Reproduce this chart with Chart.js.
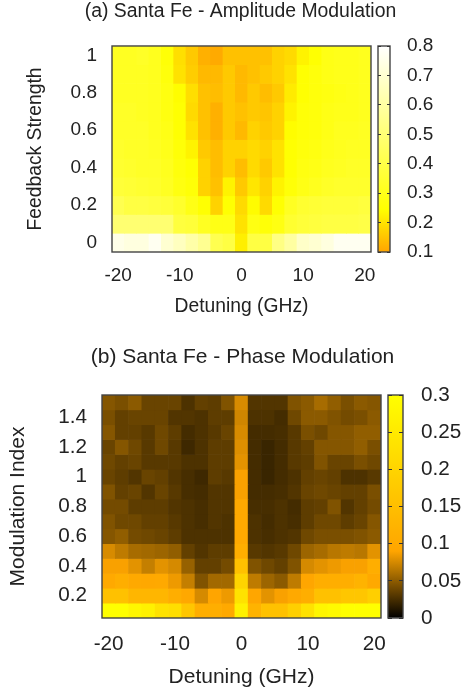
<!DOCTYPE html>
<html>
<head>
<meta charset="utf-8">
<script src="https://cdn.jsdelivr.net/npm/chart.js@4"></script>
<style>
html, body { margin: 0; background: #fff; }
body { position: relative; width: 464px; height: 691px; overflow: hidden; }
canvas { position: absolute; }
</style>
</head>
<body>
<canvas id="heatA" width="481" height="330" style="left:0;top:0"></canvas>
<canvas id="barA" width="94" height="330" style="left:370px;top:0"></canvas>
<canvas id="heatB" width="485" height="351" style="left:0;top:340px"></canvas>
<canvas id="barB" width="84" height="351" style="left:380px;top:340px"></canvas>
<script>
const detuning = [-20, -18, -16, -14, -12, -10, -8, -6, -4, -2, 0, 2, 4, 6, 8, 10, 12, 14, 16, 18, 20];
const xTicks = [-20, -10, 0, 10, 20];

// panel (a), rows listed top to bottom
const strength = [1, 0.9, 0.8, 0.7, 0.6, 0.5, 0.4, 0.3, 0.2, 0.1, 0];
const strengthTicks = [0, 0.2, 0.4, 0.6, 0.8, 1];
const ampTicks = [0.1, 0.2, 0.3, 0.4, 0.5, 0.6, 0.7, 0.8];
const ampValues = [
    [.32, .32, .33, .31, .26, .193, .158, .118, .108, .145, .145, .145, .145, .172, .185, .225, .25, .29, .30, .30, .31],
    [.32, .32, .32, .31, .27, .198, .165, .132, .132, .158, .132, .145, .158, .172, .198, .25, .27, .29, .30, .30, .31],
    [.32, .32, .32, .31, .28, .242, .192, .145, .138, .158, .132, .158, .138, .158, .212, .25, .27, .28, .29, .30, .31],
    [.33, .33, .32, .31, .28, .25, .185, .145, .118, .158, .145, .158, .152, .172, .225, .26, .27, .29, .30, .30, .31],
    [.33, .33, .33, .31, .29, .25, .198, .145, .118, .158, .132, .172, .158, .172, .242, .26, .27, .29, .31, .31, .32],
    [.34, .33, .33, .32, .30, .26, .225, .158, .138, .172, .172, .185, .172, .198, .25, .27, .28, .30, .31, .32, .32],
    [.35, .34, .33, .33, .31, .27, .25, .172, .138, .172, .138, .185, .158, .198, .25, .28, .29, .31, .32, .33, .33],
    [.37, .36, .35, .34, .32, .28, .26, .172, .145, .225, .158, .205, .172, .225, .26, .29, .31, .33, .34, .34, .34],
    [.42, .39, .39, .38, .37, .34, .29, .25, .172, .25, .185, .24, .185, .25, .32, .35, .36, .37, .37, .37, .38],
    [.49, .49, .49, .49, .49, .38, .37, .32, .29, .29, .198, .285, .26, .285, .35, .37, .38, .39, .39, .39, .40],
    [.75, .73, .73, .77, .70, .66, .61, .56, .42, .39, .22, .39, .39, .53, .595, .68, .70, .73, .77, .77, .77]
];
const ampPalette = [[0.1, [255, 165, 0]], [0.245, [255, 255, 0]], [0.8, [255, 255, 255]]];

// panel (b), rows listed top to bottom
const modIndex = [1.5, 1.4, 1.3, 1.2, 1.1, 1, 0.9, 0.8, 0.7, 0.6, 0.5, 0.4, 0.3, 0.2, 0.1];
const modTicks = [0.2, 0.4, 0.6, 0.8, 1, 1.2, 1.4];
const phaseTicks = [0, 0.05, 0.1, 0.15, 0.2, 0.25, 0.3];
const phaseValues = [
    [.047, .043, .049, .037, .037, .037, .027, .035, .033, .045, .076, .029, .029, .029, .045, .049, .059, .051, .043, .049, .047],
    [.043, .035, .037, .037, .037, .029, .029, .027, .033, .033, .073, .027, .027, .024, .039, .049, .049, .045, .041, .043, .049],
    [.047, .035, .035, .031, .039, .033, .024, .027, .031, .037, .076, .024, .024, .025, .031, .043, .039, .047, .047, .051, .051],
    [.037, .047, .039, .031, .039, .031, .022, .027, .033, .033, .078, .024, .020, .024, .031, .035, .047, .047, .047, .051, .043],
    [.039, .035, .037, .031, .031, .031, .027, .027, .033, .033, .080, .024, .020, .024, .031, .033, .045, .037, .037, .043, .039],
    [.037, .033, .029, .037, .035, .029, .025, .022, .033, .031, .088, .024, .020, .024, .027, .035, .037, .035, .027, .027, .031],
    [.045, .035, .037, .029, .037, .031, .025, .024, .029, .029, .088, .024, .024, .025, .029, .037, .039, .037, .035, .035, .043],
    [.041, .041, .033, .033, .033, .029, .027, .025, .029, .029, .100, .025, .025, .027, .024, .033, .035, .045, .029, .035, .041],
    [.045, .039, .039, .035, .035, .031, .027, .025, .029, .027, .100, .027, .024, .027, .025, .033, .039, .039, .033, .037, .047],
    [.047, .051, .041, .039, .037, .033, .027, .027, .027, .027, .100, .027, .025, .027, .029, .039, .043, .043, .043, .045, .049],
    [.076, .067, .059, .057, .055, .051, .035, .029, .033, .033, .111, .031, .029, .031, .039, .055, .059, .065, .067, .065, .080],
    [.088, .088, .080, .069, .080, .075, .053, .035, .035, .041, .156, .045, .039, .035, .045, .075, .080, .084, .088, .088, .111],
    [.100, .111, .100, .098, .100, .084, .069, .045, .057, .057, .200, .067, .055, .049, .067, .092, .111, .111, .111, .122, .100],
    [.156, .156, .129, .129, .129, .111, .098, .075, .090, .084, .233, .092, .080, .088, .100, .111, .156, .156, .167, .167, .189],
    [.300, .300, .278, .267, .233, .222, .167, .111, .111, .100, .267, .122, .156, .156, .189, .233, .278, .289, .300, .300, .300]
];
const phasePalette = [[0, [0, 0, 0]], [0.09, [255, 165, 0]], [0.3, [255, 255, 0]]];

Chart.defaults.font.family = "'Liberation Sans', Arial, sans-serif";
Chart.defaults.color = "#222";
Chart.defaults.animation = false;

function paletteColor(palette, v) {
    if (v <= palette[0][0]) return `rgb(${palette[0][1]})`;
    for (let i = 1; i < palette.length; i++) {
        const [v0, c0] = palette[i - 1];
        const [v1, c1] = palette[i];
        if (v <= v1) {
            const t = (v - v0) / (v1 - v0);
            return `rgb(${c0.map((c, k) => Math.round(c + (c1[k] - c) * t))})`;
        }
    }
    return `rgb(${palette[palette.length - 1][1]})`;
}

const frame = {
    id: 'frame',
    afterDatasetsDraw(chart) {
        const a = chart.chartArea;
        const ctx = chart.ctx;
        ctx.save();
        ctx.strokeStyle = '#444';
        ctx.lineWidth = 1.4;
        ctx.strokeRect(a.left, a.top, a.right - a.left, a.bottom - a.top);
        ctx.restore();
    }
};

function heatChart(id, o) {
    const step = Math.abs(o.rows[0] - o.rows[1]);
    const labelFont = { size: o.labelSize, lineHeight: 1.2 };
    return new Chart(document.getElementById(id), {
        type: 'bar',
        plugins: [frame],
        data: {
            labels: detuning,
            datasets: o.rows.map((row, r) => ({
                xAxisID: 'cells',
                yAxisID: 'y',
                data: detuning.map(() => [row - step / 2, row + step / 2]),
                backgroundColor: o.values[r].map(v => paletteColor(o.palette, v)),
                borderWidth: 0,
                categoryPercentage: 1,
                barPercentage: 1,
                grouped: false
            }))
        },
        options: {
            responsive: false,
            plugins: {
                legend: { display: false },
                tooltip: { enabled: false },
                title: {
                    display: true,
                    text: o.title,
                    font: { size: o.titleSize, lineHeight: 1.2, weight: 'normal' },
                    color: '#222',
                    padding: { top: o.titleTop, bottom: o.titleBottom }
                }
            },
            scales: {
                cells: { type: 'category', display: false, offset: true },
                x: {
                    type: 'linear',
                    position: 'bottom',
                    offset: false,
                    min: -21,
                    max: 21,
                    grid: { display: false, drawTicks: false },
                    border: { display: false },
                    afterBuildTicks: s => { s.ticks = xTicks.map(v => ({ value: v })); },
                    afterFit: s => { s.height = o.xHeight; },
                    ticks: { font: { size: o.tickSize }, padding: o.xTickPad, maxRotation: 0, callback: v => String(v) },
                    title: { display: true, text: 'Detuning (GHz)', font: labelFont, padding: o.xTitlePad }
                },
                y: {
                    type: 'linear',
                    min: o.yMin,
                    max: o.yMax,
                    grid: { display: false, drawTicks: false },
                    border: { display: false },
                    afterBuildTicks: s => { s.ticks = o.yTicks.map(v => ({ value: v })); },
                    afterFit: s => { s.width = o.left; },
                    ticks: { font: { size: o.tickSize }, padding: 15, callback: v => String(v) },
                    title: { display: true, text: o.yTitle, font: labelFont, padding: o.yTitlePad }
                },
                // empty axis that keeps room for the colour bar
                gutter: {
                    type: 'linear',
                    position: 'right',
                    grid: { display: false, drawTicks: false },
                    border: { display: false },
                    ticks: { display: false },
                    afterFit: s => { s.width = o.right; }
                }
            }
        }
    });
}

function colorBar(id, o) {
    const lo = o.ticks[0];
    const hi = o.ticks[o.ticks.length - 1];
    return new Chart(document.getElementById(id), {
        type: 'bar',
        plugins: [frame],
        data: {
            labels: ['cb'],
            datasets: [{
                data: [[lo, hi]],
                backgroundColor: c => {
                    const a = c.chart.chartArea;
                    if (!a) return '#fff';
                    const g = c.chart.ctx.createLinearGradient(0, a.bottom, 0, a.top);
                    o.palette.forEach(p => g.addColorStop((p[0] - lo) / (hi - lo), `rgb(${p[1]})`));
                    return g;
                },
                borderWidth: 0,
                categoryPercentage: 1,
                barPercentage: 1
            }]
        },
        options: {
            responsive: false,
            layout: { padding: { left: o.left, top: o.top, bottom: o.bottom } },
            plugins: { legend: { display: false }, tooltip: { enabled: false } },
            scales: {
                x: { display: false },
                y: {
                    position: 'right',
                    min: lo,
                    max: hi,
                    grid: { z: 1, color: '#333', drawTicks: false },
                    border: { display: false, dash: o.dash },
                    afterBuildTicks: s => { s.ticks = o.ticks.map(v => ({ value: v })); },
                    afterFit: s => { s.width = o.width; },
                    ticks: { font: { size: o.tickSize }, padding: o.pad, callback: v => String(v) }
                }
            }
        }
    });
}

heatChart('heatA', {
    title: '(a) Santa Fe - Amplitude Modulation', yTitle: 'Feedback Strength',
    rows: strength, values: ampValues, palette: ampPalette, yTicks: strengthTicks,
    yMin: -0.05, yMax: 1.05, left: 112, right: 110, xHeight: 78,
    titleSize: 19.4, labelSize: 19.3, tickSize: 19,
    titleTop: 0, titleBottom: 22.7, xTickPad: 12, xTitlePad: 12, yTitlePad: 24
});
colorBar('barA', { ticks: ampTicks, palette: ampPalette, left: 8, top: 46, bottom: 78, width: 74, pad: 17, tickSize: 19, dash: [3, 6] });

heatChart('heatB', {
    title: '(b) Santa Fe - Phase Modulation', yTitle: 'Modulation Index',
    rows: modIndex, values: phaseValues, palette: phasePalette, yTicks: modTicks,
    yMin: 0.05, yMax: 1.55, left: 102, right: 104, xHeight: 73,
    titleSize: 21, labelSize: 21, tickSize: 20.7,
    titleTop: 4.4, titleBottom: 25.4, xTickPad: 14, xTitlePad: 1, yTitlePad: 6
});
colorBar('barB', { ticks: phaseTicks, palette: phasePalette, left: 8, top: 55, bottom: 73, width: 61, pad: 18, tickSize: 20.7, dash: [4, 7] });
</script>
</body>
</html>
